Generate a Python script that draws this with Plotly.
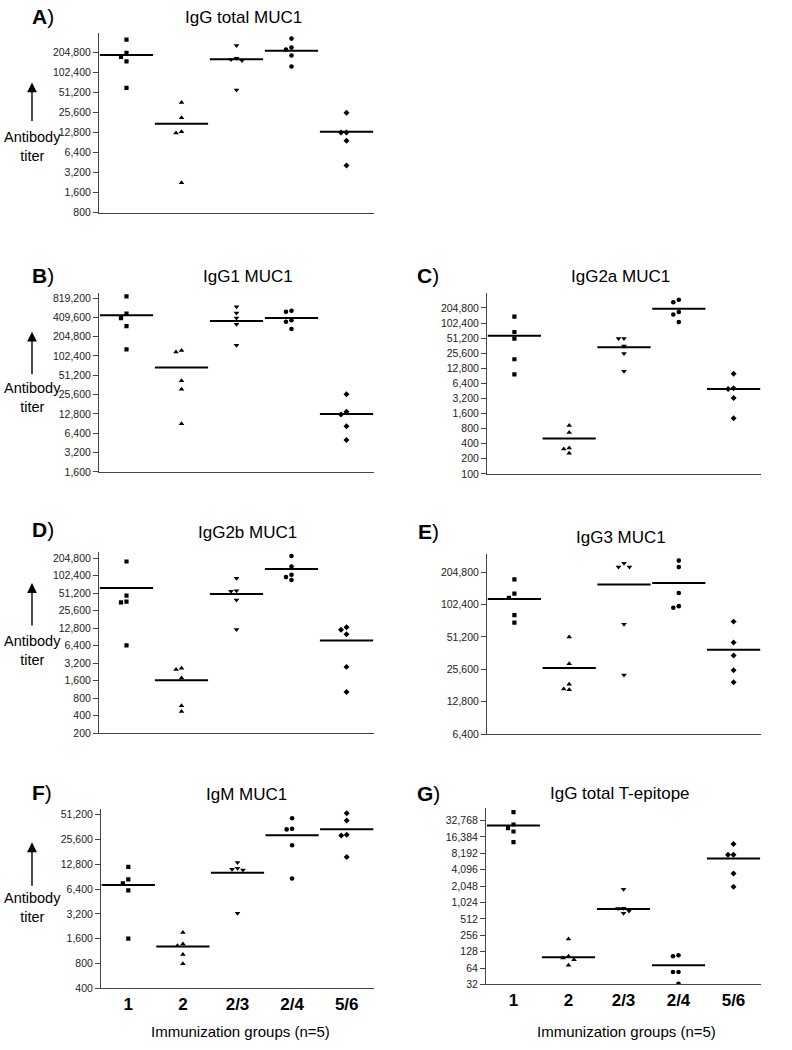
import math
import plotly.graph_objects as go

W, H = 792, 1050

groups = ["1", "2", "2/3", "2/4", "5/6"]
group_symbols = ["square", "triangle-up", "triangle-down", "circle", "diamond"]

# ---------------- data (antibody titers, 5 mice per group) ----------------
igg_total_muc1 = [
    [323000, 204800, 178000, 152000, 60500],
    [36500, 21500, 13200, 12700, 2260],
    [264000, 169000, 162000, 157000, 56400],
    [335000, 245000, 229000, 186000, 127000],
    [25600, 12900, 12900, 9700, 4100],
]
igg_total_muc1_line = [190000, 17500, 163000, 219000, 13200]
igg_total_muc1_ticks = [800, 1600, 3200, 6400, 12800, 25600, 51200, 102400, 204800]

igg1_muc1 = [
    [870000, 470000, 400000, 300000, 130000],
    [125000, 118000, 42000, 31000, 9000],
    [600000, 480000, 400000, 320000, 150000],
    [520000, 500000, 370000, 350000, 270000],
    [26000, 13800, 12500, 8200, 5000],
]
igg1_muc1_line = [440000, 68000, 360000, 400000, 12800]
igg1_muc1_ticks = [1600, 3200, 6400, 12800, 25600, 51200, 102400, 204800, 409600, 819200]

igg2a_muc1 = [
    [137000, 67900, 50100, 19400, 9660],
    [925, 672, 328, 314, 257],
    [50100, 50100, 35700, 25200, 11200],
    [298000, 267000, 170000, 152000, 107000],
    [9960, 5090, 4950, 3270, 1290],
]
igg2a_muc1_line = [57300, 510, 33700, 197000, 4950]
igg2a_muc1_ticks = [100, 200, 400, 800, 1600, 3200, 6400, 12800, 25600, 51200, 102400, 204800]

igg2b_muc1 = [
    [180000, 46500, 36700, 35700, 6490],
    [2620, 2490, 1770, 594, 470],
    [93000, 56600, 55200, 39200, 12200],
    [224000, 148000, 106000, 96900, 86200],
    [13300, 12000, 10100, 2760, 1020],
]
igg2b_muc1_line = [63000, 1630, 49600, 134000, 7880]
igg2b_muc1_ticks = [200, 400, 800, 1600, 3200, 6400, 12800, 25600, 51200, 102400, 204800]

igg3_muc1 = [
    [175000, 129000, 118000, 81600, 69400],
    [51200, 28800, 18600, 16800, 16500],
    [248000, 229000, 229000, 67000, 22700],
    [262000, 228000, 131000, 98900, 95400],
    [71000, 45400, 34400, 25100, 19400],
]
igg3_muc1_line = [115000, 26300, 157000, 162000, 38800]
igg3_muc1_ticks = [6400, 12800, 25600, 51200, 102400, 204800]

igm_muc1 = [
    [11900, 8380, 7490, 6170, 1600],
    [1900, 1380, 1310, 1030, 794],
    [13400, 11400, 11100, 10900, 3260],
    [46200, 34400, 33800, 21700, 8600],
    [53000, 43400, 29200, 28600, 15700],
]
igm_muc1_line = [7150, 1290, 10100, 28800, 34000]
igm_muc1_ticks = [400, 800, 1600, 3200, 6400, 12800, 25600, 51200]

igg_total_t_epitope = [
    [46600, 27700, 23800, 20600, 13200],
    [218, 105, 98, 91, 72],
    [1800, 803, 790, 717, 650],
    [110, 105, 54, 54, 33],
    [12200, 7740, 7740, 3490, 1990],
]
igg_total_t_epitope_line = [26600, 101, 780, 72, 6560]
igg_total_t_epitope_ticks = [32, 64, 128, 256, 512, 1024, 2048, 4096, 8192, 16384, 32768]

# ---------------- layout of the panels (page pixels) ----------------
panels = [
    dict(letter="A", title="IgG total MUC1", data=igg_total_muc1, line=igg_total_muc1_line,
         ticks=igg_total_muc1_ticks, box=(99, 374, 32, 213), ext=1.0,
         letter_xy=(43, 16), title_xy=(243, 17), arrow=(82, 122), label_y=146, xlabels=False),
    dict(letter="B", title="IgG1 MUC1", data=igg1_muc1, line=igg1_muc1_line,
         ticks=igg1_muc1_ticks, box=(99, 374, 294, 474), ext=0.26,
         letter_xy=(43, 276), title_xy=(248, 277), arrow=(333, 377), label_y=399, xlabels=False),
    dict(letter="C", title="IgG2a MUC1", data=igg2a_muc1, line=igg2a_muc1_line,
         ticks=igg2a_muc1_ticks, box=(487, 761, 294, 476), ext=0.99,
         letter_xy=(428, 276), title_xy=(620, 277), arrow=None, label_y=None, xlabels=False),
    dict(letter="D", title="IgG2b MUC1", data=igg2b_muc1, line=igg2b_muc1_line,
         ticks=igg2b_muc1_ticks, box=(99, 374, 555, 737), ext=0.34,
         letter_xy=(43, 532), title_xy=(247, 535), arrow=(586, 630), label_y=654, xlabels=False),
    dict(letter="E", title="IgG3 MUC1", data=igg3_muc1, line=igg3_muc1_line,
         ticks=igg3_muc1_ticks, box=(487, 761, 557, 738), ext=0.55,
         letter_xy=(428, 534), title_xy=(621, 540), arrow=None, label_y=None, xlabels=False),
    dict(letter="F", title="IgM MUC1", data=igm_muc1, line=igm_muc1_line,
         ticks=igm_muc1_ticks, box=(101, 374, 813, 994), ext=0.24,
         letter_xy=(42, 797), title_xy=(246, 799), arrow=(847, 892), label_y=913, xlabels=True),
    dict(letter="G", title="IgG total T-epitope", data=igg_total_t_epitope, line=igg_total_t_epitope_line,
         ticks=igg_total_t_epitope_ticks, box=(486, 761, 812, 990), ext=0.79,
         letter_xy=(429, 798), title_xy=(620, 798), arrow=None, label_y=None, xlabels=True),
]

TEXT_FONT = "Liberation Sans, Arial, Helvetica, sans-serif"
TICK_FONT = "Liberation Sans Narrow, Arial Narrow, Liberation Sans, Arial, sans-serif"


def fx(x):
    return x / W


def fy(y):
    return 1 - y / H


def jitter(values, ppu, thr_px=5.0, step=0.1):
    """Spread overlapping points horizontally (simple beeswarm)."""
    order = sorted(range(len(values)), key=lambda k: -values[k])
    placed = []
    offs = [0.0] * len(values)
    for k in order:
        ly = math.log10(values[k])
        near = [o for (l, o) in placed if abs(l - ly) * ppu < thr_px]
        for cand in (0.0, -step, step, -2 * step, 2 * step):
            if all(abs(cand - o) > 1e-9 for o in near):
                offs[k] = cand
                break
        placed.append((ly, offs[k]))
    return offs


marker_sizes = {"square": 4.2, "triangle-up": 5, "triangle-down": 5, "circle": 4.6, "diamond": 4.6}

fig = go.Figure()
annotations = []

for i, p in enumerate(panels, start=1):
    xa = "x" if i == 1 else f"x{i}"
    ya = "y" if i == 1 else f"y{i}"
    x0, x1, y0, y1 = p["box"]
    lo = math.log10(p["ticks"][0])
    hi = math.log10(p["ticks"][-1]) + p["ext"] * math.log10(2)
    ppu = (y1 - y0) / (hi - lo)

    for g, vals in enumerate(p["data"]):
        offs = jitter(vals, ppu)
        sym = group_symbols[g]
        fig.add_trace(go.Scatter(
            x=[g + o for o in offs], y=vals, mode="markers",
            marker=dict(symbol=sym, size=marker_sizes[sym], color="black", line=dict(width=0)),
            xaxis=xa, yaxis=ya, showlegend=False, hoverinfo="y"))
    fig.add_trace(go.Scatter(
        x=list(range(len(groups))), y=p["line"], mode="markers",
        marker=dict(symbol="line-ew", size=38, color="black", line=dict(width=2, color="black")),
        xaxis=xa, yaxis=ya, showlegend=False, hoverinfo="y"))

    xkey = "xaxis" if i == 1 else f"xaxis{i}"
    ykey = "yaxis" if i == 1 else f"yaxis{i}"
    fig.update_layout(**{
        xkey: dict(domain=[fx(x0), fx(x1)], range=[-0.5, 4.5], anchor=ya,
                   showgrid=False, zeroline=False, showline=True, linecolor="#444", linewidth=1,
                   ticks="", tickmode="array", tickvals=list(range(len(groups))),
                   ticktext=[f"<b>{t}</b>" for t in groups], showticklabels=p["xlabels"],
                   tickfont=dict(family=TEXT_FONT, size=17, color="black")),
        ykey: dict(domain=[fy(y1), fy(y0)], type="log", range=[lo, hi], anchor=xa,
                   showgrid=False, zeroline=False, showline=True, linecolor="#444", linewidth=1,
                   ticks="outside", ticklen=5, tickcolor="#444", tickwidth=1,
                   tickmode="array", tickvals=p["ticks"], ticktext=[f"{t:,}" for t in p["ticks"]],
                   tickfont=dict(family=TICK_FONT, size=10.5, color="#222")),
    })

    lx, ly = p["letter_xy"]
    annotations.append(dict(x=fx(lx), y=fy(ly), xref="paper", yref="paper", showarrow=False,
                            text=f"<b>{p['letter']}</b>)", xanchor="center", yanchor="middle",
                            font=dict(family=TEXT_FONT, size=21, color="black")))
    tx, ty = p["title_xy"]
    annotations.append(dict(x=fx(tx), y=fy(ty), xref="paper", yref="paper", showarrow=False,
                            text=p["title"], xanchor="center", yanchor="middle",
                            font=dict(family=TEXT_FONT, size=17, color="black")))
    if p["arrow"]:
        head, tail = p["arrow"]
        annotations.append(dict(x=fx(32), y=fy(head), xref="paper", yref="paper", text="",
                                showarrow=True, ax=0, ay=tail - head, arrowhead=2,
                                arrowsize=1.4, arrowwidth=1.4, arrowcolor="black", standoff=0))
        annotations.append(dict(x=fx(32), y=fy(p["label_y"]), xref="paper", yref="paper",
                                showarrow=False, text="Antibody<br>titer", align="center",
                                xanchor="center", yanchor="middle",
                                font=dict(family=TEXT_FONT, size=14.5, color="black")))
    if p["xlabels"]:
        annotations.append(dict(x=fx((x0 + x1) / 2 + 3), y=fy(1037), xref="paper", yref="paper",
                                showarrow=False, text="Immunization groups (n=5)",
                                xanchor="center", yanchor="middle",
                                font=dict(family=TEXT_FONT, size=15, color="black")))

fig.update_layout(width=W, height=H, margin=dict(l=0, r=0, t=0, b=0),
                  paper_bgcolor="white", plot_bgcolor="white",
                  annotations=annotations, showlegend=False)

fig.write_html("out.html", config={"displayModeBar": False},
               post_script="document.body.style.margin='0';document.body.style.padding='0';")
